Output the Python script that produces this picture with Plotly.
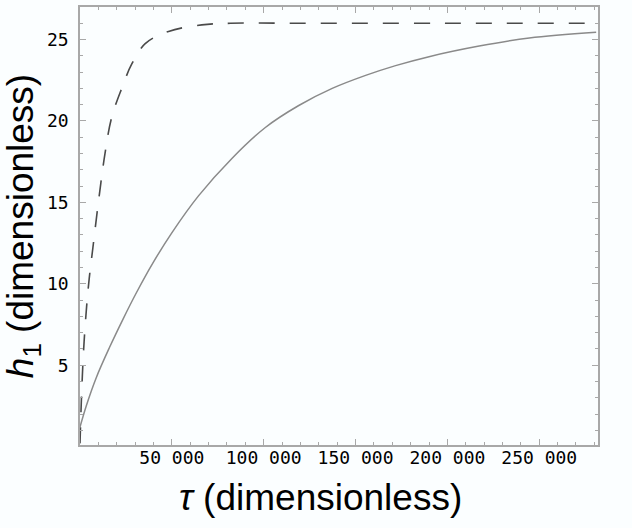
import plotly.graph_objects as go

# solid curve
tau_solid = [0, 3400, 8900, 16100, 23500, 30700, 39800, 49800, 64500, 82700,
             100900, 119100, 137300, 155500, 171800, 190000, 217300, 244600, 281000]
h_solid = [1.2, 2.5, 4.25, 6.1, 7.85, 9.45, 11.3, 13.1, 15.4, 17.7,
           19.6, 20.95, 22.0, 22.8, 23.4, 23.95, 24.6, 25.1, 25.45]

# dashed curve
tau_dash = [0, 800, 2000, 3600, 5000, 7000, 10000, 13600, 17200, 22700, 28200,
            35500, 48200, 66300, 82000, 120000, 200000, 281000]
h_dash = [0.2, 3.0, 6.0, 8.6, 10.3, 12.2, 15.0, 18.0, 20.2, 22.0, 23.5,
          24.75, 25.5, 25.9, 26.0, 26.0, 26.0, 26.0]

x_tickvals = [50000, 100000, 150000, 200000, 250000]
x_ticktext = ["50 000", "100 000", "150 000", "200 000", "250 000"]
y_tickvals = [5, 10, 15, 20, 25]

fig = go.Figure()
fig.add_trace(go.Scatter(x=tau_solid, y=h_solid, mode="lines",
                         line=dict(color="#8a8a8a", width=1.5, shape="spline")))
fig.add_trace(go.Scatter(x=tau_dash, y=h_dash, mode="lines",
                         line=dict(color="#4a4a4a", width=1.6, dash="16px,15px",
                                   shape="spline")))

tickfont = dict(family="DejaVu Sans Mono", size=18, color="black")
axis_common = dict(
    showgrid=False, zeroline=False,
    showline=True, linecolor="#a8a8a8", linewidth=1.5, mirror="allticks",
    ticks="inside", ticklen=6, tickcolor="#a8a8a8", tickwidth=1,
    tickfont=tickfont,
)

fig.update_layout(
    width=632, height=528,
    showlegend=False,
    paper_bgcolor="#fbfeff", plot_bgcolor="#fbfeff",
    margin=dict(l=80, r=34, t=5, b=83),
    xaxis=dict(range=[0, 282000], tickvals=x_tickvals, ticktext=x_ticktext,
               minor=dict(dtick=10000, tick0=0, ticks="inside", ticklen=3,
                          tickcolor="#a8a8a8"),
               ticklabelstandoff=-4,
               **axis_common),
    yaxis=dict(range=[0.1, 27], tickvals=y_tickvals,
               minor=dict(dtick=1, tick0=0, ticks="inside", ticklen=3,
                          tickcolor="#a8a8a8"),
               ticklabelstandoff=6,
               title=dict(text="<i>h</i><sub>1</sub> (dimensionless)", standoff=2,
                          font=dict(family="Liberation Sans", size=37, color="black")),
               **axis_common),
)

# x title sits a little left of the plot centre in the original
fig.add_annotation(text="<i>τ</i> (dimensionless)", xref="paper", yref="paper",
                   x=0.4635, y=0, yanchor="middle", yshift=-52, showarrow=False,
                   font=dict(family="Liberation Sans", size=37, color="black"))

fig.write_html("out.html", config={"displayModeBar": False},
               post_script="document.body.style.margin='0';")
